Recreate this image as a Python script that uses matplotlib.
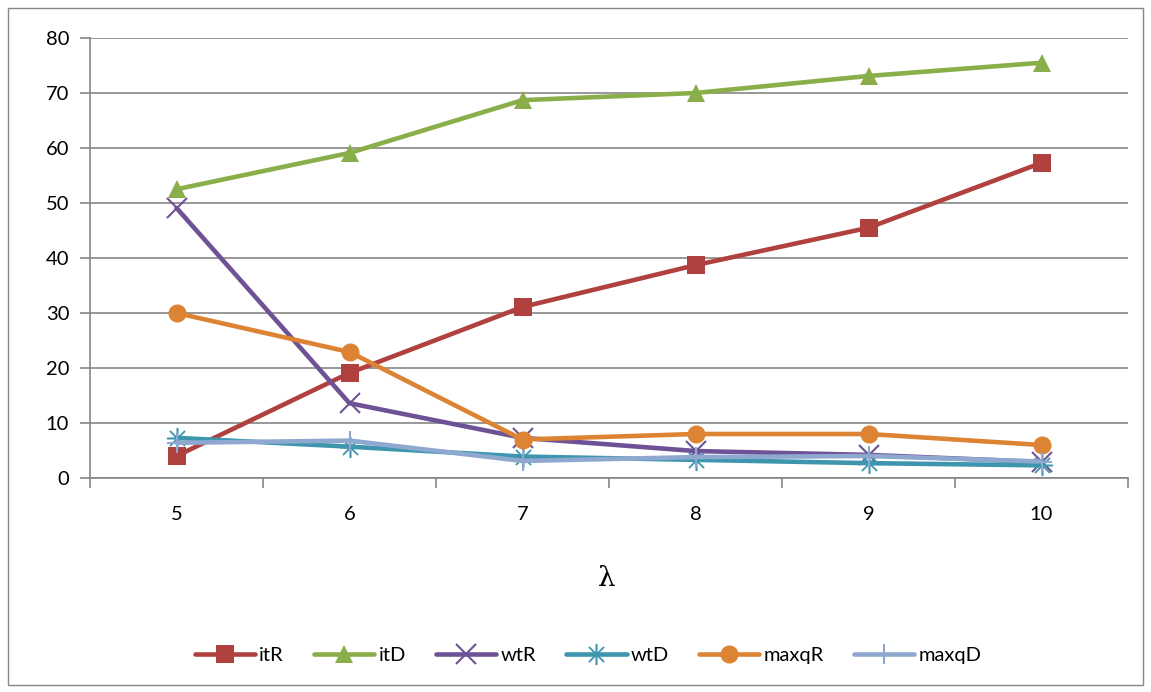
import matplotlib.pyplot as plt
from matplotlib.patches import Rectangle

lambdas = [5, 6, 7, 8, 9, 10]
itR = [4.0, 19.1, 31.1, 38.7, 45.5, 57.3]
itD = [52.5, 59.1, 68.7, 70.0, 73.1, 75.5]
wtR = [49.1, 13.6, 7.3, 4.9, 4.2, 2.9]
wtD = [7.3, 5.7, 3.9, 3.3, 2.7, 2.3]
maxqR = [30.0, 22.9, 7.0, 8.0, 8.0, 6.0]
maxqD = [6.4, 6.8, 3.1, 3.8, 4.0, 3.0]

series = [
    ("itR", itR, "#B0413E", "s"),
    ("itD", itD, "#8AAF4A", "^"),
    ("wtR", wtR, "#6E5295", "x"),
    ("wtD", wtD, "#3D96AE", "$\u2733$"),
    ("maxqR", maxqR, "#DD8434", "o"),
    ("maxqD", maxqD, "#8EA8D0", "+"),
]

plt.rcParams["font.family"] = ["Lato", "DejaVu Sans"]

fig = plt.figure(figsize=(11.51, 6.92), dpi=100)
W, H = 1151, 692
ax = fig.add_axes([90 / W, 1 - 478 / H, 1038 / W, 440 / H])

# outer chart border
fig.patches.append(Rectangle((8 / W, 7 / H), 1135 / W, 677 / H, transform=fig.transFigure,
                             fill=False, edgecolor="#868686", linewidth=1.0))

xs = [i + 0.5 for i in range(len(lambdas))]
for name, vals, col, mk in series:
    kw = dict(markersize=13)
    if mk in ("x", "+"):
        kw.update(markersize=14, markeredgewidth=1.5)
    elif mk.startswith("$"):
        kw.update(markersize=15, markeredgewidth=0.3)
    else:
        kw.update(markeredgewidth=0)
    ax.plot(xs, vals, color=col, linewidth=3.3, marker=mk, label=name,
            markerfacecolor=col, markeredgecolor=col, solid_capstyle="round", **kw)

ax.set_xlim(0, 6)
ax.set_ylim(0, 80)
ax.set_yticks(range(0, 81, 10))
ax.set_xticks(range(0, 7))
ax.set_xticklabels([])
ax.set_xticks(xs, minor=True)
ax.set_xticklabels([str(v) for v in lambdas], minor=True)
ax.tick_params(axis="x", which="minor", length=0, pad=20, labelsize=14.5)
ax.tick_params(axis="x", which="major", length=7, color="#868686", width=1.2)
ax.tick_params(axis="y", length=7, color="#868686", width=1.2, labelsize=14.5, pad=8)
ax.grid(axis="y", color="#868686", linewidth=1.2)
ax.set_axisbelow(True)
for s in ("top", "right"):
    ax.spines[s].set_visible(False)
for s in ("left", "bottom"):
    ax.spines[s].set_color("#868686")
    ax.spines[s].set_linewidth(1.2)

fig.text(607 / W, 1 - 578 / H, "\u03bb", ha="center", va="center", fontsize=20,
         family=["DejaVu Serif"])

fig.legend(loc="center", bbox_to_anchor=(588 / W, 1 - 655 / H), ncol=6, frameon=False,
           fontsize=14.5, handlelength=3, columnspacing=1.5, handletextpad=0.2)

fig.savefig("out.png", dpi=100)
